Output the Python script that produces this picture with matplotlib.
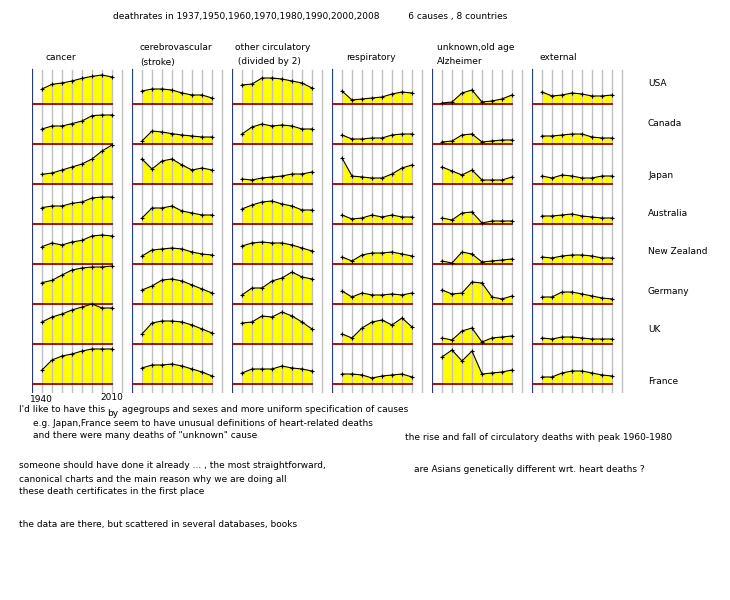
import matplotlib
matplotlib.use("Agg")
import matplotlib.pyplot as plt

years = [1937, 1950, 1960, 1970, 1980, 1990, 2000, 2008]
causes = ["cancer", "cerebrovascular\n(stroke)", "other circulatory\n (divided by 2)",
          "respiratory", "unknown,old age\nAlzheimer", "external"]
countries = ["USA", "Canada", "Japan", "Australia", "New Zealand", "Germany", "UK", "France"]

cancer = [
    [45, 59, 63, 69, 77, 83, 87, 81],
    [45, 54, 54, 61, 69, 85, 87, 87],
    [29, 33, 42, 51, 60, 75, 99, 117],
    [49, 54, 54, 62, 66, 78, 81, 81],
    [52, 63, 57, 66, 71, 84, 87, 84],
    [64, 71, 87, 102, 108, 111, 111, 114],
    [66, 81, 90, 102, 111, 120, 108, 108],
    [42, 72, 84, 90, 99, 105, 105, 105],
]
stroke = [
    [39, 45, 45, 42, 33, 27, 27, 18],
    [9, 39, 36, 31, 27, 24, 21, 21],
    [75, 45, 69, 75, 57, 42, 48, 42],
    [18, 48, 48, 54, 39, 33, 27, 27],
    [24, 42, 45, 48, 45, 36, 30, 27],
    [42, 54, 72, 75, 69, 57, 45, 33],
    [30, 63, 69, 69, 66, 57, 45, 33],
    [48, 57, 57, 60, 54, 45, 36, 24],
]
other_circ = [
    [57, 60, 78, 78, 75, 69, 63, 48],
    [30, 51, 60, 54, 57, 54, 45, 45],
    [15, 12, 18, 21, 24, 30, 30, 36],
    [45, 57, 66, 69, 60, 54, 42, 42],
    [54, 63, 66, 63, 63, 57, 48, 39],
    [27, 48, 48, 69, 78, 96, 81, 75],
    [63, 66, 84, 81, 96, 84, 66, 45],
    [33, 45, 45, 45, 54, 48, 45, 39],
]
respiratory = [
    [39, 12, 15, 18, 21, 30, 36, 33],
    [27, 15, 15, 18, 18, 27, 30, 30],
    [78, 24, 21, 18, 18, 30, 48, 57],
    [27, 15, 18, 27, 21, 27, 21, 21],
    [21, 9, 27, 33, 33, 36, 30, 24],
    [39, 21, 33, 27, 27, 30, 27, 33],
    [30, 18, 48, 66, 72, 57, 78, 51],
    [30, 30, 27, 18, 24, 27, 30, 21],
]
unknown = [
    [3, 6, 33, 42, 6, 9, 15, 27],
    [6, 9, 27, 30, 6, 9, 12, 12],
    [51, 39, 27, 42, 12, 12, 12, 21],
    [18, 12, 33, 36, 3, 9, 9, 9],
    [9, 3, 36, 30, 6, 9, 12, 15],
    [42, 30, 33, 66, 63, 21, 15, 24],
    [18, 12, 39, 48, 6, 18, 21, 24],
    [81, 102, 69, 99, 30, 33, 36, 42],
]
external = [
    [36, 24, 27, 33, 30, 24, 24, 27],
    [24, 24, 27, 30, 30, 21, 18, 18],
    [24, 18, 27, 24, 18, 18, 24, 24],
    [24, 24, 27, 30, 24, 21, 18, 18],
    [21, 18, 24, 27, 27, 24, 18, 18],
    [21, 21, 36, 36, 30, 24, 18, 15],
    [18, 15, 21, 21, 18, 15, 15, 15],
    [21, 21, 33, 39, 39, 33, 27, 24],
]
data = [cancer, stroke, other_circ, respiratory, unknown, external]

W, H = 730, 600
fig = plt.figure(figsize=(W / 100, H / 100), dpi=100)
FS = 6.5
ROW = 120

def px(x, y):
    return x / W, 1 - y / H

top_px, bot_px = 64, 393
span = bot_px - top_px
for c, series in enumerate(data):
    left = 32 + 100 * c
    ax = fig.add_axes([left / W, 1 - bot_px / H, 100 / W, span / H])
    ax.set_xlim(-1, 9)
    ax.set_ylim(-(bot_px - 384) * 3, (384 - top_px) * 3)
    ax.axis("off")
    ymax = (bot_px - 70) / span
    ax.axvline(-1, color="#1f3f7a", lw=1.6, ymin=0, ymax=ymax)
    for g in range(9):
        ax.axvline(g, color="#c0c0c0", lw=1, ymin=0, ymax=ymax, zorder=1.5 if g < 8 else 0)
    xs = list(range(len(years)))
    for r, vals in enumerate(series):
        base = (7 - r) * ROW
        ys = [base + v for v in vals]
        ax.fill_between(xs, base, ys, color="#ffff00", lw=0, zorder=1)
        ax.plot(xs, ys, color="black", lw=0.8, marker="+", ms=3, mew=0.8, zorder=4)
        ax.plot([-1, 7], [base, base], color="#990000", lw=1.3, zorder=3)

fig.text(*px(113, 16), "deathrates in 1937,1950,1960,1970,1980,1990,2000,2008          6 causes , 8 countries",
         fontsize=FS, va="center")
head_x = [45, 140, 235, 346, 437, 540]
for c, name in enumerate(causes):
    lines = name.split("\n")
    if len(lines) == 1:
        fig.text(*px(head_x[c], 57), name, fontsize=FS, va="center")
    else:
        fig.text(*px(head_x[c], 48), lines[0], fontsize=FS, va="center")
        fig.text(*px(head_x[c], 62), lines[1], fontsize=FS, va="center")
country_y = [83, 123, 175, 213, 252, 291, 330, 382]
for name, y in zip(countries, country_y):
    fig.text(*px(648, y), name, fontsize=FS, va="center")
fig.text(*px(30, 400), "1940", fontsize=FS, va="center")
fig.text(*px(100, 398), "2010", fontsize=FS, va="center")

notes = [
    (19, 410, "I'd like to have this"), (107, 413, "by"),
    (122, 410, "agegroups and sexes and more uniform specification of causes"),
    (33, 423, "e.g. Japan,France seem to have unusual definitions of heart-related deaths"),
    (33, 436, "and there were many deaths of \"unknown\" cause"),
    (19, 466, "someone should have done it already ... , the most straightforward,"),
    (19, 479, "canonical charts and the main reason why we are doing all"),
    (19, 492, "these death certificates in the first place"),
    (19, 525, "the data are there, but scattered in several databases, books"),
    (405, 438, "the rise and fall of circulatory deaths with peak 1960-1980"),
    (414, 470, "are Asians genetically different wrt. heart deaths ?"),
]
for x, y, t in notes:
    fig.text(*px(x, y), t, fontsize=FS, va="center")

fig.savefig("out.png", dpi=100)
